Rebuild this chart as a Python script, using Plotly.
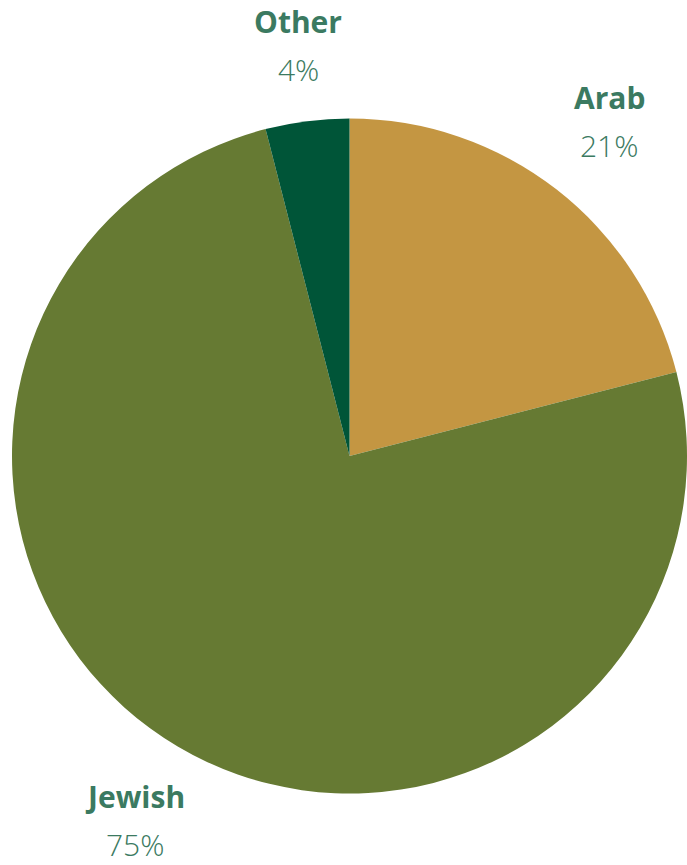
import math
import plotly.graph_objects as go

categories = ["Arab", "Jewish", "Other"]
values = [21, 75, 4]
colors = ["#C49642", "#667A33", "#005538"]
pct_labels = ["21%", "75%", "4%"]

W, H = 687, 865
cx, cy, R = 350, 456, 338  # pie layout in pixels
label_radius = {"Arab": 423, "Jewish": 423, "Other": 414}

fig = go.Figure(go.Pie(
    labels=categories, values=values, sort=False, direction="clockwise",
    rotation=0, textinfo="none", hoverinfo="label+percent",
    marker=dict(colors=colors, line=dict(width=0)),
    domain=dict(x=[(cx - R) / W, 1.0], y=[(H - (cy + R)) / H, (H - (cy - R)) / H]),
    showlegend=False,
))

total = sum(values)
cum = 0
annotations = []
for cat, v, p in zip(categories, values, pct_labels):
    mid = (cum + v / 2) / total * 2 * math.pi
    cum += v
    lr = label_radius[cat]
    px = cx + lr * math.sin(mid)
    py = cy - lr * math.cos(mid)
    annotations.append(dict(
        x=px / W, y=(H - (py - 24)) / H, xref="paper", yref="paper",
        text="<b>" + cat + "</b>", showarrow=False, xanchor="center", yanchor="middle",
        font=dict(family="Open Sans, Lato, sans-serif", size=30, color="#3B7A61"),
    ))
    annotations.append(dict(
        x=px / W, y=(H - (py + 24)) / H, xref="paper", yref="paper",
        text=p, showarrow=False, xanchor="center", yanchor="middle",
        font=dict(family="Open Sans, Lato, sans-serif", size=30, color="#3B7A61", weight=300),
    ))

fig.update_layout(
    width=W, height=H, margin=dict(l=0, r=0, t=0, b=0),
    paper_bgcolor="white", plot_bgcolor="white",
    annotations=annotations,
)
fig.write_html(
    "out.html",
    config={"displayModeBar": False},
    post_script="document.body.style.margin='0';document.body.style.overflow='hidden';",
)
